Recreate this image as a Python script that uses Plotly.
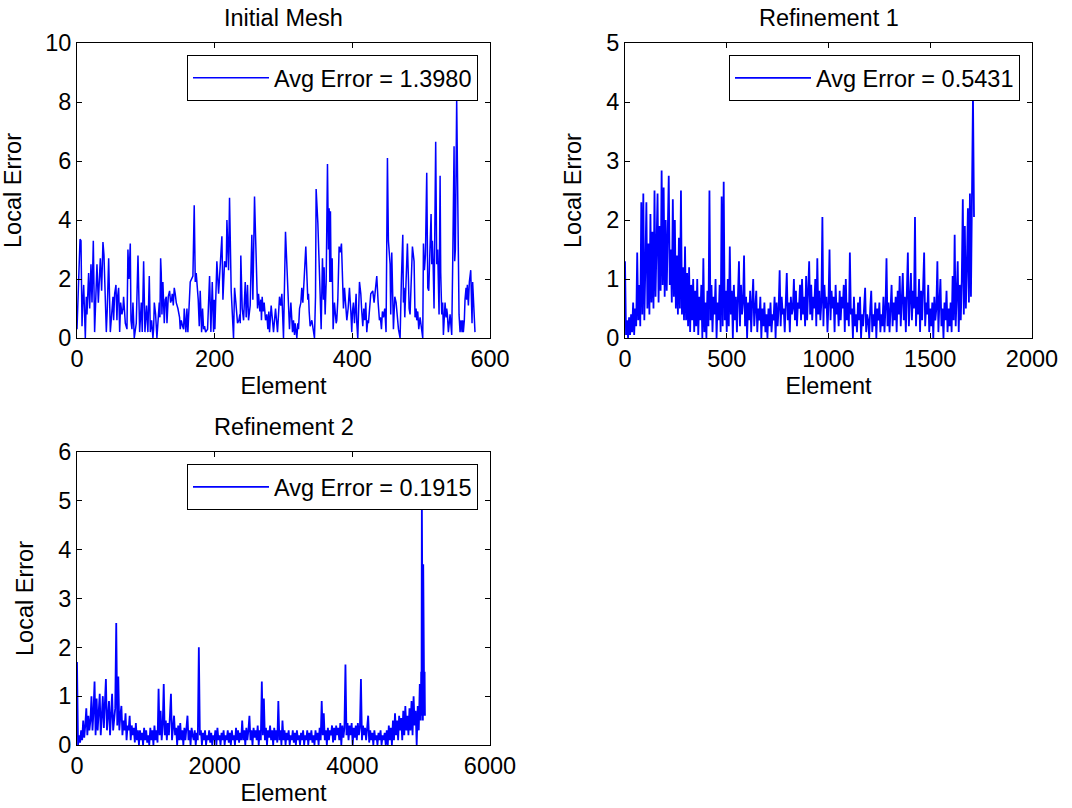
import plotly.graph_objects as go

# ---------------- data ----------------
# Initial mesh: element index / local error (vertices)
mesh0_elem = [0, 2.4, 4.4, 5.8, 7.3, 8.2, 9.7, 12.1, 13.5, 14.5, 15.5, 16.9, 18.4, 20.3, 21.8, 23.7, 25.6, 29, 31, 33.9,
              35.8, 37.7, 39.2, 41.1, 42.6, 44, 46, 48.4, 49.8, 51.3, 52.3, 53.2, 54.7, 56.6, 58, 59, 60.5, 62, 63.4, 65.3,
              66.8, 67.7, 70.2, 72.6, 74, 75.5, 77.4, 78.4, 79.8, 81.3, 83.2, 86.1, 88.6, 91, 93.4, 94.8, 96.8, 98.7, 101, 103,
              105, 106.5, 108.4, 110.3, 111.3, 112.3, 114.2, 116.1, 118, 119.5, 120.5, 121.5, 122.4, 123.4, 124.8, 125.8, 126.8, 128.2, 129.7, 130.7,
              132.6, 134.5, 136, 137.4, 138.4, 139.9, 141.3, 142.7, 144.2, 146.6, 149, 150, 151.5, 153.4, 154.9, 155.8, 158.2, 159.7, 161.1, 164.5,
              166.5, 168.4, 170.3, 171.8, 173.2, 174.7, 176.1, 177.6, 179, 181, 182.4, 183.9, 185.3, 186.8, 189.7, 192.6, 193.6, 194.5, 196.5, 197.4,
              198.4, 199.4, 200.3, 203.2, 205.7, 210.5, 212, 214.4, 216.8, 217.8, 220.2, 221.6, 224, 227.4, 228.9, 230.8, 233.2, 235.2, 236.6, 237.2,
              238, 240, 242, 244.4, 245.8, 247.7, 249.2, 251.6, 254, 255.5, 257.9, 258.9, 260.3, 262.3, 263.7, 265.7, 267.1, 268, 269, 270.5,
              271.9, 273.9, 275.8, 277.3, 278.7, 279.7, 282.1, 283.5, 285.5, 288.4, 289.8, 291.3, 294.2, 296.1, 297.6, 300, 302.9, 305.8, 307.3, 308.7,
              310.7, 313.1, 314.5, 316, 317, 319.4, 320.8, 321.8, 323.3, 325.2, 326.6, 328.1, 330, 331.5, 332.4, 335.3, 336.3, 337.3, 338.7, 341.2,
              343.6, 345, 346.5, 347.4, 349.9, 352.3, 353.2, 354.7, 355.7, 356.6, 358.1, 359, 360.5, 362, 363.9, 365.3, 366.3, 367.3, 368.2, 369.2,
              370.7, 371.1, 372.1, 374, 376.5, 377.4, 378.9, 380.8, 382.3, 384.2, 385.2, 387.1, 388.6, 390, 392, 393.9, 395.8, 397.8, 399.2, 400.2,
              401.6, 403.1, 404.5, 405.5, 406.5, 407.9, 410.4, 412.3, 413.7, 415.2, 416.6, 418.1, 419.5, 421, 422.4, 423.4, 426.8, 429.7, 431.6, 433.6,
              435.5, 437.5, 439.4, 440.8, 442.3, 443.7, 445.2, 447.1, 449, 451, 452.4, 454.9, 455.8, 457.3, 458.3, 459.7, 461.7, 463.6, 467, 469.4,
              471.3, 473.3, 474.2, 475.2, 476.2, 480, 481.5, 482.5, 483.9, 485.8, 487.3, 489.7, 491.1, 492.6, 493.6, 495, 496.5, 498.4, 502.3, 503.3,
              504.7, 506.2, 508.1, 509.6, 511, 512.5, 514.4, 515.4, 516.3, 517.3, 518.7, 521.1, 522.6, 524, 525, 526, 527.5, 528.4, 529.9, 531.3,
              532.3, 534.7, 536.2, 537.1, 538.1, 539.5, 542, 544.4, 545.8, 547.8, 548.7, 549.7, 551.6, 553.1, 554, 555, 556.5, 557.9, 559.4, 560.3,
              561.3, 562.7, 563.7, 565.2, 566.1, 567.1, 568.6, 570, 572, 573.9, 574.8, 576.3, 578.2]
mesh0_err = [0.3, 2.0, 3.35, 3.3, 0.4, 1.1, 1.8, 0.0, 1.4, 0.8, 1.5, 2.2, 1.0, 2.5, 1.2, 3.3, 0.2, 2.5, 1.2, 2.7,
             1.6, 3.25, 2.8, 0.9, 0.2, 1.0, 2.7, 0.2, 0.6, 0.8, 1.4, 0.6, 1.5, 1.8, 0.6, 1.4, 1.7, 0.2, 1.2, 0.8,
             1.0, 1.4, 0.5, 0.3, 3.0, 2.0, 3.2, 0.6, 0.3, 1.2, 0.0, 0.5, 2.8, 0.2, 1.2, 0.2, 2.6, 0.2, 1.1, 0.2,
             2.1, 0.2, 0.6, 0.0, 0.3, 1.2, 0.8, 0.0, 0.9, 1.2, 0.7, 2.7, 2.2, 0.8, 1.9, 1.1, 0.5, 1.3, 1.4, 0.5,
             1.4, 1.6, 1.2, 1.3, 1.5, 1.1, 1.7, 1.5, 1.2, 1.0, 0.7, 0.3, 0.6, 0.4, 0.3, 1.0, 0.2, 1.0, 0.2, 1.9,
             2.0, 2.1, 4.5, 1.9, 2.2, 1.7, 1.3, 0.4, 1.6, 0.2, 1.0, 0.3, 0.4, 0.2, 0.3, 2.1, 1.0, 0.2, 1.9, 0.3,
             0.2, 1.3, 0.3, 2.6, 1.5, 3.45, 1.3, 2.6, 2.4, 4.0, 2.3, 4.75, 1.6, 0.0, 1.7, 1.2, 0.5, 0.6, 0.8, 0.5,
             2.8, 1.0, 0.6, 1.9, 0.7, 1.8, 0.6, 1.1, 3.5, 1.3, 4.8, 3.9, 2.7, 1.0, 1.5, 0.9, 1.3, 0.6, 1.4, 0.9,
             1.2, 0.6, 0.8, 0.3, 0.9, 0.2, 1.1, 0.7, 0.2, 1.0, 0.6, 0.2, 1.4, 1.1, 1.5, 0.0, 3.6, 2.0, 1.0, 0.3,
             1.2, 0.2, 0.6, 0.1, 0.5, 0.0, 0.5, 0.3, 1.0, 1.2, 1.7, 1.2, 2.0, 2.5, 3.1, 1.3, 1.5, 0.9, 0.4, 0.6,
             0.3, 0.0, 1.4, 5.05, 3.9, 2.5, 1.5, 0.3, 1.5, 2.7, 1.3, 2.4, 0.8, 1.9, 5.9, 3.0, 4.4, 1.9, 4.3, 1.9,
             2.7, 1.0, 0.3, 1.2, 0.5, 0.6, 1.3, 3.1, 2.9, 3.2, 2.4, 1.0, 1.7, 1.3, 0.6, 1.0, 1.7, 0.9, 0.2, 0.9,
             1.2, 0.5, 0.9, 1.5, 0.5, 0.0, 1.9, 1.5, 0.9, 0.4, 1.0, 0.6, 1.2, 0.2, 0.6, 0.5, 1.5, 1.6, 1.2, 1.8,
             2.1, 1.2, 0.6, 0.7, 0.3, 0.9, 0.7, 1.0, 0.2, 6.1, 3.3, 2.5, 0.8, 2.9, 1.5, 0.3, 1.4, 1.2, 0.3, 0.0,
             2.0, 3.5, 1.2, 1.7, 0.7, 3.2, 2.0, 1.0, 0.8, 2.2, 3.1, 2.6, 0.7, 1.0, 0.6, 0.9, 0.3, 0.7, 0.0, 3.2,
             2.3, 2.8, 5.6, 1.7, 1.6, 2.8, 4.2, 2.5, 3.3, 2.6, 1.0, 6.65, 2.5, 3.0, 1.5, 0.8, 5.5, 2.2, 0.8, 1.2,
             0.1, 1.2, 0.7, 1.0, 0.8, 0.2, 0.8, 0.1, 2.5, 6.5, 2.6, 3.0, 8.1, 4.5, 1.8, 0.8, 0.2, 0.6, 0.2, 0.6,
             0.2, 0.6, 1.3, 1.7, 1.3, 1.8, 1.1, 1.9, 2.3, 0.5, 1.9, 0.9, 0.2]

# Refinement 1: local error every 5 elements (elements 0 .. 1715)
ref1_step = 5
ref1_err = [
    1.3, 0.05, 0.3, 0.0, 0.35, 0.05, 0.4, 0.1, 0.6, 0.05, 0.5, 0.2, 1.45, 0.3, 0.9, 0.2, 2.3, 0.4, 2.45, 0.3,
    1.2, 2.3, 0.5, 1.6, 0.4, 2.1, 0.6, 1.8, 0.5, 2.5, 0.7, 1.5, 2.45, 0.6, 1.9, 0.8, 2.84, 0.9, 2.55, 0.7,
    2.0, 0.8, 1.6, 2.75, 0.9, 1.5, 0.6, 2.35, 0.7, 2.0, 0.5, 1.4, 0.4, 1.7, 0.5, 2.5, 0.4, 1.2, 0.3, 1.55,
    0.3, 1.1, 0.2, 1.2, 0.1, 0.9, 0.3, 1.0, 0.1, 0.8, 0.2, 1.0, 0.05, 0.7, 0.3, 0.9, 0.0, 1.35, 0.1, 0.6,
    0.0, 0.8, 0.2, 2.5, 0.3, 0.9, 0.1, 0.7, 0.4, 1.0, 0.0, 0.6, 0.3, 0.9, 0.1, 2.4, 0.2, 2.65, 0.3, 0.8,
    0.1, 1.0, 0.2, 1.55, 0.4, 0.8, 0.0, 0.9, 0.3, 0.7, 0.1, 0.8, 1.3, 0.2, 0.9, 0.4, 0.6, 1.4, 0.2, 0.7,
    0.0, 0.6, 0.3, 0.8, 0.1, 0.6, 1.0, 0.2, 0.5, 0.8, 0.1, 0.5, 0.3, 0.7, 0.0, 0.5, 0.2, 0.6, 0.1, 0.4,
    0.0, 0.5, 0.2, 0.6, 0.1, 0.4, 0.3, 0.7, 0.0, 0.6, 0.2, 0.5, 1.15, 0.2, 0.7, 0.4, 0.5, 0.1, 0.6, 1.1,
    0.3, 0.6, 0.1, 0.7, 0.4, 0.5, 1.0, 0.3, 0.8, 0.2, 0.6, 0.5, 0.9, 0.3, 1.0, 0.4, 0.7, 0.2, 1.05, 0.3,
    0.8, 1.3, 0.4, 0.9, 0.3, 0.7, 0.5, 1.0, 0.2, 1.35, 0.4, 0.8, 0.3, 0.6, 2.05, 0.2, 0.9, 0.5, 0.7, 0.1,
    0.6, 1.5, 0.3, 0.8, 0.5, 0.7, 0.1, 0.9, 0.4, 0.6, 0.2, 0.8, 0.3, 0.7, 0.5, 0.9, 0.1, 1.0, 0.3, 0.6,
    0.2, 1.45, 0.4, 0.5, 0.0, 0.7, 0.2, 0.4, 0.1, 0.6, 0.3, 0.7, 0.0, 0.4, 0.2, 0.5, 0.85, 0.1, 0.4, 0.3,
    0.0, 0.5, 0.8, 0.1, 0.4, 0.2, 0.6, 0.0, 0.5, 0.3, 0.6, 0.1, 0.4, 0.2, 0.7, 0.1, 0.5, 1.35, 0.2, 0.6,
    0.1, 0.5, 0.9, 0.2, 0.6, 0.3, 0.7, 0.1, 0.8, 0.4, 1.05, 0.2, 0.6, 1.1, 0.3, 0.7, 0.1, 0.9, 1.45, 0.2,
    0.6, 1.1, 0.3, 0.8, 0.5, 2.05, 0.2, 0.7, 0.4, 1.0, 0.1, 0.8, 0.3, 0.9, 1.45, 0.2, 0.6, 0.4, 0.9, 0.1,
    0.5, 0.2, 0.6, 0.0, 0.7, 0.3, 0.5, 1.3, 0.1, 0.6, 1.0, 0.2, 0.5, 0.0, 0.6, 0.3, 0.8, 0.1, 0.5, 0.2,
    0.6, 0.1, 1.05, 0.3, 1.75, 0.2, 0.8, 1.3, 0.1, 0.9, 0.3, 1.0, 2.35, 0.4, 1.9, 0.5, 1.2, 2.2, 0.6, 2.45,
    0.7, 2.85, 4.1, 2.05]

# Refinement 2: local error every 15 elements (0 .. 4995), then the final burst
ref2_step = 15
ref2_err = [
    1.7, 0.0, 0.2, 0.05, 0.3, 0.1, 0.5, 0.15, 0.4, 0.75, 0.2, 0.6, 0.3, 0.5, 1.0, 0.3, 0.7, 1.3, 0.2, 0.95,
    0.3, 0.7, 1.05, 0.2, 0.6, 1.0, 0.35, 0.8, 1.35, 0.3, 0.6, 0.9, 0.2, 0.7, 1.05, 0.3, 0.6, 0.75, 2.5, 0.4,
    1.4, 0.3, 0.6, 0.8, 0.2, 0.5, 0.3, 0.65, 0.1, 0.4, 0.3, 0.6, 0.1, 0.4, 0.2, 0.35, 0.05, 0.45, 0.1, 0.3,
    0.0, 0.3, 0.1, 0.25, 0.0, 0.35, 0.1, 0.3, 0.05, 0.2, 0.0, 0.35, 0.1, 0.3, 0.0, 0.4, 0.1, 0.3, 0.05, 1.15,
    0.2, 0.7, 0.1, 0.4, 1.25, 0.2, 0.5, 0.1, 0.45, 0.2, 0.6, 1.05, 0.1, 0.4, 0.6, 0.2, 0.35, 0.0, 0.4, 0.1,
    0.45, 0.1, 0.3, 0.0, 0.35, 0.1, 0.3, 0.6, 0.1, 0.3, 0.0, 0.35, 0.2, 0.1, 0.3, 0.0, 0.25, 0.1, 2.0, 0.2,
    0.3, 0.0, 0.25, 0.1, 0.3, 0.0, 0.2, 0.1, 0.3, 0.05, 0.25, 0.0, 0.2, 0.1, 0.3, 0.0, 0.35, 0.1, 0.2, 0.0,
    0.25, 0.1, 0.3, 0.0, 0.2, 0.1, 0.3, 0.05, 0.25, 0.0, 0.3, 0.1, 0.2, 0.0, 0.35, 0.1, 0.3, 0.05, 0.25, 0.1,
    0.5, 0.1, 0.3, 0.0, 0.35, 0.1, 0.3, 0.6, 0.1, 0.3, 0.0, 0.35, 0.15, 0.3, 0.1, 0.4, 0.0, 0.3, 0.1, 1.3,
    0.2, 0.95, 0.1, 0.35, 0.0, 0.3, 0.15, 0.4, 0.1, 0.3, 0.0, 0.35, 0.1, 0.3, 0.05, 0.9, 0.1, 0.3, 0.0, 0.5,
    0.1, 0.3, 0.0, 0.25, 0.1, 0.3, 0.0, 0.2, 0.1, 0.3, 0.05, 0.25, 0.0, 0.3, 0.1, 0.2, 0.0, 0.25, 0.1, 0.3,
    0.0, 0.2, 0.1, 0.3, 0.0, 0.25, 0.1, 0.3, 0.05, 0.2, 0.0, 0.3, 0.1, 0.25, 0.0, 0.35, 0.1, 0.9, 0.2, 0.65,
    0.1, 0.3, 0.0, 0.35, 0.1, 0.3, 0.2, 0.4, 0.05, 0.35, 0.1, 0.4, 0.2, 0.35, 0.1, 0.45, 0.0, 0.4, 0.15, 0.35,
    1.65, 0.2, 0.45, 0.1, 0.4, 0.2, 0.45, 0.0, 0.35, 0.15, 0.4, 0.1, 0.45, 0.2, 0.35, 1.35, 0.1, 0.4, 0.2, 0.35,
    0.1, 0.3, 0.6, 0.05, 0.3, 0.1, 0.25, 0.0, 0.3, 0.1, 0.2, 0.0, 0.25, 0.1, 0.3, 0.0, 0.2, 0.1, 0.25, 0.0,
    0.3, 0.0, 0.4, 0.1, 0.35, 0.0, 0.5, 0.1, 0.65, 0.2, 0.5, 0.1, 0.6, 0.3, 0.55, 0.1, 0.7, 0.2, 0.8, 0.3,
    0.6, 0.2, 0.75, 0.3, 0.9, 0.2, 1.0, 0.4, 0.7, 0.0, 0.8, 0.3, 1.25, 0.5]
ref2_tail_elem = [5000, 5005, 5010, 5015, 5020, 5025, 5030, 5035, 5040, 5045, 5050, 5055]
ref2_tail_err = [1.5, 0.6, 5.0, 0.7, 4.0, 0.5, 3.7, 0.8, 3.2, 0.6, 1.5, 0.6]

titles = ["Initial Mesh", "Refinement 1", "Refinement 2"]
legend_labels = ["Avg Error = 1.3980", "Avg Error = 0.5431", "Avg Error = 0.1915"]
x_ticks = [[0, 200, 400, 600], [0, 500, 1000, 1500, 2000], [0, 2000, 4000, 6000]]
y_ticks = [[0, 2, 4, 6, 8, 10], [0, 1, 2, 3, 4, 5], [0, 1, 2, 3, 4, 5, 6]]

# ---------------- figure ----------------
ref1_elem = [i * ref1_step for i in range(len(ref1_err))]
ref2_elem = [i * ref2_step for i in range(len(ref2_err))] + ref2_tail_elem
ref2_all = ref2_err + ref2_tail_err

FONT = "Liberation Sans, Arial, Helvetica, sans-serif"
FS = 23.5
W, H = 1072, 808
BLUE = "#0000ff"

fig = go.Figure()
series = [(mesh0_elem, mesh0_err), (ref1_elem, ref1_err), (ref2_elem, ref2_all)]
widths = [1.5, 1.8, 1.8]
axnames = [("x", "y"), ("x2", "y2"), ("x3", "y3")]
legnames = ["legend", "legend2", "legend3"]
for k, (xs, ys) in enumerate(series):
    fig.add_trace(go.Scatter(x=xs, y=ys, mode="lines", name=legend_labels[k],
                             line=dict(color=BLUE, width=widths[k]),
                             xaxis=axnames[k][0], yaxis=axnames[k][1],
                             legend=legnames[k], showlegend=True))

# axes boxes in pixels (left, right, top, bottom)
boxes = [(77, 490, 43, 338), (625, 1032, 43, 338), (77, 490, 452, 745)]


def px2x(p):
    return p / W


def px2y(p):
    return 1 - p / H


axis_common = dict(showline=True, linecolor="black", linewidth=1, mirror="allticks",
                   ticks="inside", ticklen=5, tickcolor="black", tickwidth=1,
                   showgrid=False, zeroline=False, automargin=False,
                   tickfont=dict(family=FONT, size=FS, color="black"))

layout = dict(width=W, height=H, margin=dict(l=0, r=0, t=0, b=0, autoexpand=False),
              paper_bgcolor="white", plot_bgcolor="white",
              font=dict(family=FONT, size=FS, color="black"))

xr = [[0, 600], [0, 2000], [0, 6000]]
yr = [[0, 10], [0, 5], [0, 6]]
annotations = []
for k in range(3):
    l, r, t, b = boxes[k]
    sx = "" if k == 0 else str(k + 1)
    layout["xaxis" + sx] = dict(axis_common, domain=[px2x(l), px2x(r)], range=xr[k],
                                tickvals=x_ticks[k], anchor="y" + sx,
                                title=dict(text="Element", font=dict(family=FONT, size=FS), standoff=6))
    layout["yaxis" + sx] = dict(axis_common, domain=[px2y(b), px2y(t)], range=yr[k],
                                tickvals=y_ticks[k], anchor="x" + sx,
                                title=dict(text="Local Error", font=dict(family=FONT, size=FS), standoff=17))
    layout[legnames[k]] = dict(x=px2x(r - 12), y=px2y(t + 12), xanchor="right", yanchor="top",
                               xref="paper", yref="paper",
                               bgcolor="white", bordercolor="black", borderwidth=1,
                               font=dict(family=FONT, size=FS, color="black"),
                               itemwidth=76)
    annotations.append(dict(text=titles[k], x=px2x((l + r) / 2), y=px2y(t - 25),
                            xref="paper", yref="paper", xanchor="center", yanchor="middle",
                            showarrow=False, font=dict(family=FONT, size=FS, color="black")))

layout["annotations"] = annotations
fig.update_layout(**layout)
fig.write_html("out.html")
